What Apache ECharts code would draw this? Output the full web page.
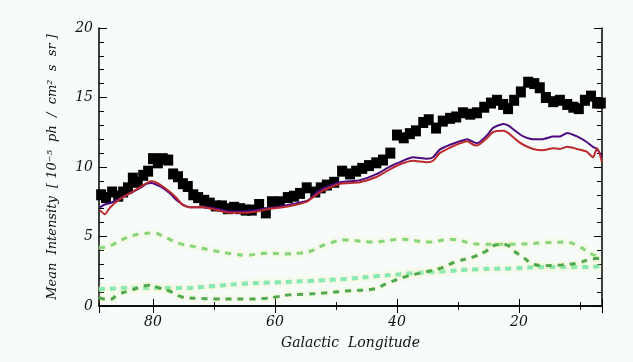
<!DOCTYPE html>
<html>
<head>
<meta charset="utf-8">
<script src="https://cdn.jsdelivr.net/npm/echarts@6/dist/echarts.min.js"></script>
<style>
    html, body { margin: 0; padding: 0; background: #f7fbf9; }
    #chart { width: 633px; height: 362px; }
</style>
</head>
<body>
<div id="chart"></div>
<script>
    // measured intensity (black squares)
    var obsLon = [88.5, 87.7, 86.7, 85.7, 84.9, 84.1, 83.3, 82.5, 81.6, 80.8, 80.0, 79.2, 78.4, 77.5, 76.7, 75.9,
        75.1, 74.3, 73.4, 72.6, 71.6, 70.7, 69.7, 68.7, 67.7, 66.7, 65.7, 64.8, 63.8, 62.6, 61.5, 60.5, 59.2,
        57.9, 56.9, 55.9, 54.8, 53.4, 52.5, 51.5, 50.3, 49.0, 47.7, 46.7, 45.7, 44.6, 43.4, 42.3, 41.1, 40.0,
        38.9, 37.9, 36.9, 35.7, 34.8, 33.6, 32.5, 31.3, 30.3, 29.2, 28.0, 26.9, 25.7, 24.6, 23.6, 22.6, 21.8,
        20.8, 19.7, 18.5, 17.5, 16.6, 15.6, 14.4, 13.3, 12.1, 11.1, 10.2, 9.2, 8.2, 7.2, 6.6];
    var obsVal = [8.0, 7.8, 8.2, 7.9, 8.2, 8.5, 9.2, 8.9, 9.4, 9.7, 10.6, 10.3, 10.6, 10.5, 9.5, 9.3,
        8.8, 8.6, 8.0, 7.8, 7.6, 7.4, 7.2, 7.2, 7.0, 7.1, 7.0, 6.9, 6.9, 7.3, 6.7, 7.5, 7.5,
        7.8, 7.9, 8.1, 8.5, 8.2, 8.5, 8.7, 8.9, 9.7, 9.5, 9.7, 9.9, 10.1, 10.3, 10.5, 11.0, 12.3,
        12.1, 12.4, 12.6, 13.2, 13.4, 12.8, 13.3, 13.5, 13.6, 13.9, 13.8, 13.9, 14.3, 14.6, 14.8, 14.5, 14.2,
        14.8, 15.4, 16.1, 16.0, 15.7, 15.0, 14.7, 14.8, 14.5, 14.3, 14.2, 14.8, 15.1, 14.6, 14.6];

    // model totals (blue / red)
    var modelLon = [88.7, 87.9, 87.0, 85.4, 83.8, 82.1, 81.0, 80.2, 79.3, 78.4, 77.2, 76.1, 75.1, 73.9, 71.8,
        69.5, 67.4, 65.2, 62.9, 60.8, 58.7, 56.4, 54.6, 52.6, 49.3, 46.1, 43.3, 41.1, 39.5, 37.4, 35.1, 34.1,
        33.0, 31.3, 29.7, 28.5, 27.5, 26.9, 25.2, 24.3, 22.6, 21.8, 20.3, 19.3, 17.7, 16.1, 14.4, 13.3, 12.1,
        10.5, 8.9, 7.9, 7.2, 6.4];
    var blueVal = [7.1, 7.3, 7.4, 7.75, 8.1, 8.5, 8.8, 8.85, 8.7, 8.5, 8.1, 7.6, 7.3, 7.1, 7.1,
        7.0, 6.8, 6.8, 6.9, 7.05, 7.2, 7.4, 7.6, 8.35, 8.9, 9.05, 9.5, 10.05, 10.35, 10.7, 10.6, 10.7,
        11.25, 11.6, 11.85, 12.0, 11.8, 11.7, 12.3, 12.8, 13.1, 13.0, 12.5, 12.2, 12.0, 12.0, 12.2, 12.2, 12.45,
        12.2, 11.8, 11.45, 11.3, 10.7];
    var redVal = [6.9, 6.6, 7.1, 7.7, 8.1, 8.55, 8.85, 9.0, 8.85, 8.6, 8.2, 7.75, 7.25, 7.1, 7.1,
        6.9, 6.7, 6.7, 6.8, 7.0, 7.1, 7.3, 7.55, 8.2, 8.8, 8.9, 9.3, 9.85, 10.2, 10.45, 10.35, 10.45,
        11.0, 11.4, 11.7, 11.85, 11.6, 11.55, 12.1, 12.5, 12.6, 12.45, 11.9, 11.6, 11.3, 11.2, 11.35, 11.3, 11.45,
        11.3, 11.1, 10.7, 11.35, 10.35];

    // components (dashed)
    var upperLon = [88.85, 87.2, 84.4, 81.8, 79.8, 78.5, 75.7, 73.0, 69.7, 67.0, 64.8, 61.5, 58.2, 56.1, 54.4,
        51.6, 48.4, 44.1, 39.2, 34.6, 31.3, 26.4, 20.7, 15.7, 12.3, 10.0, 8.4, 6.4];
    var upperVal = [4.2, 4.3, 4.9, 5.2, 5.25, 5.05, 4.5, 4.25, 3.95, 3.75, 3.65, 3.8, 3.75, 3.8, 3.9,
        4.45, 4.75, 4.6, 4.8, 4.6, 4.8, 4.45, 4.45, 4.55, 4.6, 4.25, 3.8, 3.45];
    var darkLon = [88.85, 87.2, 85.6, 83.4, 81.8, 80.7, 79.0, 76.9, 75.2, 72.5, 69.7, 64.3, 61.5, 59.8, 57.7,
        54.9, 51.6, 47.7, 44.1, 41.5, 38.7, 35.9, 33.0, 30.3, 27.7, 25.6, 23.6, 22.1, 21.0, 19.3, 17.7, 15.7,
        13.0, 10.3, 8.4, 6.4];
    var darkVal = [0.6, 0.45, 0.85, 1.15, 1.4, 1.5, 1.3, 1.0, 0.65, 0.55, 0.5, 0.5, 0.55, 0.65, 0.8,
        0.85, 0.95, 1.1, 1.2, 1.65, 2.1, 2.4, 2.7, 3.2, 3.5, 3.9, 4.4, 4.4, 4.0, 3.5, 3.0, 2.9,
        2.95, 3.1, 3.35, 3.45];
    var cyanLon = [88.85, 83.4, 75.2, 70.8, 65.4, 59.8, 54.4, 48.4, 43.1, 37.5, 32.1, 26.7, 21.1, 15.7, 10.3, 6.4];
    var cyanVal = [1.2, 1.3, 1.3, 1.4, 1.6, 1.7, 1.8, 1.95, 2.15, 2.35, 2.5, 2.65, 2.7, 2.8, 2.8, 2.85];

    function pairs(xs, ys) {
        return xs.map(function (x, i) { return [x, ys[i]]; });
    }

    var fontBase = {
        fontFamily: 'DejaVu Serif',
        fontStyle: 'italic',
        color: '#111',
        fontSize: 14
    };

    var xBase = {
        type: 'value',
        min: 6.4,
        max: 88.85,
        inverse: true,
        splitNumber: 4,
        splitLine: { show: false },
        axisLine: { lineStyle: { color: '#000', width: 1.5 } },
        axisTick: { inside: true, length: 7, lineStyle: { color: '#000' } },
        minorTick: { show: true, splitNumber: 2, length: 4, lineStyle: { color: '#000' } }
    };
    var yBase = {
        type: 'value',
        min: 0,
        max: 20,
        interval: 5,
        splitLine: { show: false },
        axisLine: { lineStyle: { color: '#000', width: 1.5 } },
        axisTick: { inside: true, length: 8, lineStyle: { color: '#000' } },
        minorTick: { show: true, splitNumber: 5, length: 5, lineStyle: { color: '#000' } }
    };

    var dashGlow = {
        shadowColor: 'rgba(235, 240, 160, 0.9)',
        shadowBlur: 4
    };

    var chart = echarts.init(document.getElementById('chart'));
    chart.setOption({
        backgroundColor: '#f7fbf9',
        animation: false,
        grid: { left: 99, right: 31, top: 28, bottom: 56 },
        xAxis: [
            Object.assign({}, xBase, {
                position: 'bottom',
                name: 'Galactic  Longitude',
                nameLocation: 'middle',
                nameGap: 30,
                nameTextStyle: fontBase,
                axisLabel: Object.assign({ margin: 9, showMinLabel: false, showMaxLabel: false }, fontBase)
            }),
            Object.assign({}, xBase, { position: 'top', axisLabel: { show: false } })
        ],
        yAxis: [
            Object.assign({}, yBase, {
                position: 'left',
                name: 'Mean  Intensity  [ 10\u207B\u2075  ph  /  cm\u00B2  s  sr ]',
                nameLocation: 'middle',
                nameGap: 40,
                nameTextStyle: Object.assign({}, fontBase, { fontSize: 13 }),
                axisLabel: Object.assign({ margin: 6 }, fontBase)
            }),
            Object.assign({}, yBase, { position: 'right', axisLabel: { show: false } })
        ],
        series: [
            {
                name: 'data',
                type: 'scatter',
                symbol: 'rect',
                symbolSize: [10, 11],
                itemStyle: { color: '#000', opacity: 1 },
                data: pairs(obsLon, obsVal)
            },
            {
                name: 'model',
                type: 'line',
                showSymbol: false,
                smooth: 0.2,
                lineStyle: { color: '#4c0a7e', width: 2 },
                data: pairs(modelLon, blueVal)
            },
            {
                name: 'model2',
                type: 'line',
                showSymbol: false,
                smooth: 0.2,
                lineStyle: { color: '#bb2a2e', width: 2 },
                data: pairs(modelLon, redVal)
            },
            {
                name: 'comp1',
                type: 'line',
                showSymbol: false,
                smooth: 0.4,
                lineStyle: Object.assign({ color: '#86d57c', width: 3, type: [6, 6] }, dashGlow),
                data: pairs(upperLon, upperVal)
            },
            {
                name: 'comp2',
                type: 'line',
                showSymbol: false,
                smooth: 0.4,
                lineStyle: Object.assign({ color: '#86e8b2', width: 4, type: [6, 5] }, dashGlow),
                data: pairs(cyanLon, cyanVal)
            },
            {
                name: 'comp3',
                type: 'line',
                showSymbol: false,
                smooth: 0.4,
                lineStyle: Object.assign({ color: '#4fa84f', width: 3, type: [6, 6] }, dashGlow),
                data: pairs(darkLon, darkVal)
            }
        ]
    });
</script>
</body>
</html>
